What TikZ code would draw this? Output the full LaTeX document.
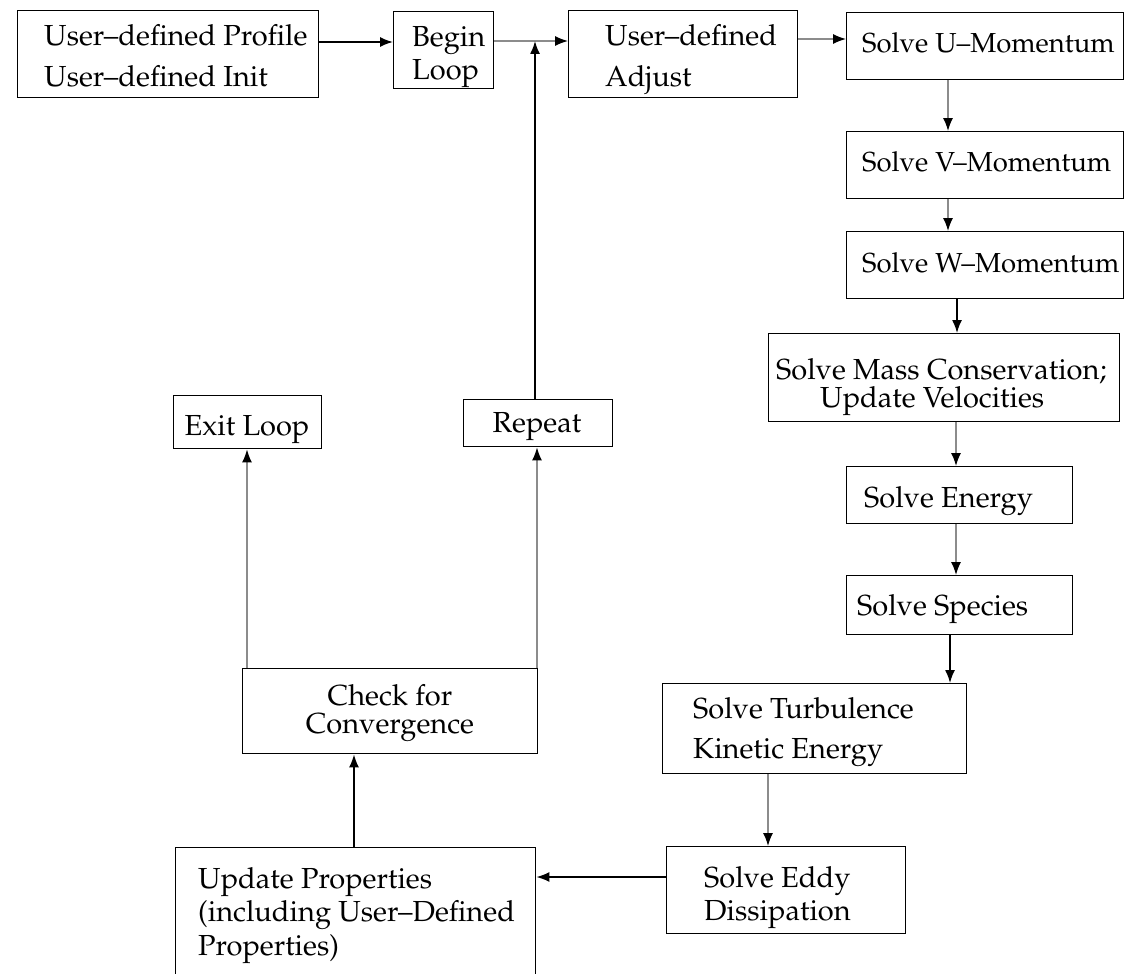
\documentclass[tikz,border=0pt]{standalone}
\usepackage[T1]{fontenc}
\usepackage{mathpazo}
\usetikzlibrary{arrows.meta,calc}
\definecolor{lgray}{RGB}{140,140,140}
\newcommand\fsz[1]{\fontsize{29}{#1}\selectfont}
\begin{document}
\begin{tikzpicture}[x=1pt,y=-1pt,
  box/.style={draw=black, line width=1.4pt, inner sep=0pt, anchor=north west},
  txt/.style={inner sep=0pt, anchor=base west, align=left},
  darr/.style={line width=1.6pt, draw=black, -{Latex[length=13pt,width=10pt]}},
  garr/.style={line width=1.4pt, draw=lgray, -{Latex[length=13pt,width=10pt,color=black]}}]
\useasboundingbox (0,0) rectangle (1127,974);
% boxes
\node[box, minimum width=301pt, minimum height=87pt] (b1) at (17,10) {};
\node[box, minimum width=100pt, minimum height=77pt] (begin) at (393,11) {};
\node[box, minimum width=229pt, minimum height=87pt] (adjust) at (568,10) {};
\node[box, minimum width=277pt, minimum height=67pt] (u) at (846,12) {};
\node[box, minimum width=277pt, minimum height=67pt] (v) at (846,131) {};
\node[box, minimum width=277pt, minimum height=67pt] (w) at (846,231) {};
\node[box, minimum width=351pt, minimum height=88pt] (mass) at (768,333) {};
\node[box, minimum width=226pt, minimum height=57pt] (energy) at (846,466) {};
\node[box, minimum width=226pt, minimum height=59pt] (species) at (846,575) {};
\node[box, minimum width=304pt, minimum height=90pt] (turb) at (662,683) {};
\node[box, minimum width=239pt, minimum height=87pt] (eddy) at (666,846) {};
\node[box, minimum width=360pt, minimum height=143pt] (update) at (175,847) {};
\node[box, minimum width=295pt, minimum height=85pt] (check) at (242,668) {};
\node[box, minimum width=148pt, minimum height=53pt] (exit) at (173,395) {};
\node[box, minimum width=149pt, minimum height=47pt] (repeat) at (463,399) {};
% texts (anchor = baseline of the last line)
\node[txt, font=\fsz{41}] (t1) at (44,86) {User--defined Profile\\User--defined Init};
\node[txt, font=\fsz{33}] (tbegin) at (412,80) {Begin\\Loop};
\node[txt, font=\fsz{41}] (tadj) at (605,86) {User--defined\\Adjust};
\node[txt, font=\fontsize{27.5}{32}\selectfont] (tu) at (862,53) {Solve U--Momentum};
\node[txt, font=\fontsize{27.5}{32}\selectfont] (tv) at (862,171) {Solve V--Momentum};
\node[txt, font=\fontsize{27.5}{32}\selectfont] (tw) at (862,272) {Solve W--Momentum};
\node[txt, font=\fsz{28}] (tmass) at (776,407) {Solve Mass Conservation;\\\hspace*{44pt}Update Velocities};
\node[txt, font=\fsz{30}] (tenergy) at (864,507) {Solve Energy};
\node[txt, font=\fsz{30}] (tspecies) at (857,615) {Solve Species};
\node[txt, font=\fsz{40}] (tturb) at (693,758) {Solve Turbulence\\Kinetic Energy};
\node[txt, font=\fsz{33}] (teddy) at (704,920) {Solve Eddy\\Dissipation};
\node[txt, font=\fsz{33.5}] (tupdate) at (198,955) {Update Properties\\(including User--Defined\\Properties)};
\node[inner sep=0pt, anchor=base, align=center, font=\fsz{28}] (tcheck) at (390,733) {Check for\\Convergence};
\node[inner sep=0pt, anchor=base, font=\fsz{30}] (texit) at (247,435) {Exit Loop};
\node[inner sep=0pt, anchor=base, font=\fsz{30}] (trepeat) at (537,432) {Repeat};
% connectors
\coordinate (j) at (535,41);
\draw[darr] (b1.east |- 0,42) -- (begin.west |- 0,42);
\draw[garr] (begin.east |- 0,41) -- (adjust.west |- 0,41);
\draw[darr] (repeat.north -| j) -- (j);
\draw[garr] (adjust.east |- 0,39) -- (u.west |- 0,39);
\draw[garr] (u.south -| 948,0) -- (v.north -| 948,0);
\draw[garr] (v.south -| 948,0) -- (w.north -| 948,0);
\draw[darr] (w.south -| 957,0) -- (mass.north -| 957,0);
\draw[garr] (mass.south -| 956,0) -- (energy.north -| 956,0);
\draw[garr] (energy.south -| 956,0) -- (species.north -| 956,0);
\draw[darr] (species.south -| 950,0) -- (turb.north -| 950,0);
\draw[garr] (turb.south -| 768,0) -- (eddy.north -| 768,0);
\draw[darr] (eddy.west |- 0,877) -- (update.east |- 0,877);
\draw[darr] (update.north -| 354,0) -- (check.south -| 354,0);
\draw[garr] (check.north -| 247,0) -- (exit.south -| 247,0);
\draw[garr] (check.north -| 537,0) -- (repeat.south -| 537,0);
\end{tikzpicture}
\end{document}
